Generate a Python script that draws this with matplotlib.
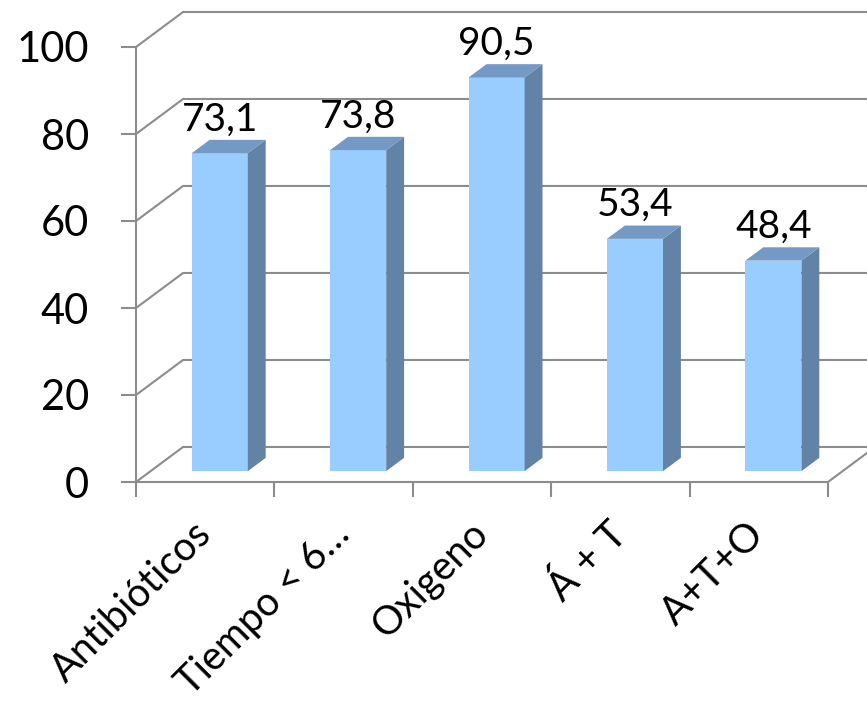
import matplotlib
matplotlib.use("Agg")
import matplotlib.pyplot as plt
from matplotlib.patches import Polygon
import numpy as np

categories = ["Antibióticos", "Tiempo < 6…", "Oxigeno", "Á + T", "A+T+O"]
values = [73.1, 73.8, 90.5, 53.4, 48.4]
y_ticks = [0, 20, 40, 60, 80, 100]

plt.rcParams['font.family'] = ['Lato', 'DejaVu Sans']

grid_col = "#8c8c8c"
front_col = "#99ccff"
side_col = "#6283a6"
top_col = "#7499c4"

# fake 3-D box: depth shift in category units (x) and value units (y)
DX, DY = 0.34, 8.05
z0, z1 = 0.31, 0.69          # bar sits between these depth fractions
bar_w = 0.405
px_per_cat, px_per_unit = 138.4, 4.35

fig = plt.figure(figsize=(8.67, 7.09), dpi=100)
ax = fig.add_axes([136 / 867, 227 / 709, 731 / 867, 482 / 709])
xmax = 731 / px_per_cat
ax.set_xlim(0, xmax)
ax.set_ylim(0, 482 / px_per_unit)

# back wall gridlines with the left side-wall diagonal
for v in y_ticks:
    ax.plot([0, DX, xmax], [v, v + DY, v + DY], color=grid_col, lw=1.5,
            zorder=1, clip_on=False, solid_capstyle='butt')
# right edge of the floor
n = len(categories)
ax.plot([n, n + DX], [0, DY], color=grid_col, lw=1.5, zorder=1, clip_on=False)

for s in ["top", "right"]:
    ax.spines[s].set_visible(False)
for s in ["left", "bottom"]:
    ax.spines[s].set_color(grid_col)
    ax.spines[s].set_linewidth(1.5)
ax.spines["left"].set_bounds(0, 100)
ax.spines["bottom"].set_bounds(0, n)

ax.set_yticks(y_ticks)
ax.set_yticklabels([str(t) for t in y_ticks])
ax.tick_params(axis='y', length=10.8, width=1.5, color=grid_col,
               labelsize=30, pad=23)

ax.set_xticks(np.arange(n + 1))
ax.set_xticklabels([])
ax.set_xticks(np.arange(n) + 0.5, minor=True)
ax.set_xticklabels(categories, minor=True, rotation=45, ha='right',
                   va='center', rotation_mode='anchor', fontsize=28.5)
ax.tick_params(axis='x', which='major', length=10.8, width=1.5, color=grid_col)
ax.tick_params(axis='x', which='minor', length=0, pad=33)

# bars: front face, right side and top
d = z1 - z0
yb = z0 * DY
centers = np.arange(n) + 0.5 + z0 * DX
ax.bar(centers, values, width=bar_w, bottom=yb, color=front_col,
       linewidth=0, zorder=3)
for xc, v in zip(centers, values):
    xl, xr = xc - bar_w / 2, xc + bar_w / 2
    yt = yb + v
    side = Polygon([(xr, yb), (xr, yt), (xr + d * DX, yt + d * DY),
                    (xr + d * DX, yb + d * DY)], closed=True,
                   fc=side_col, ec='none', zorder=3)
    top = Polygon([(xl, yt), (xr, yt), (xr + d * DX, yt + d * DY),
                   (xl + d * DX, yt + d * DY)], closed=True,
                  fc=top_col, ec='none', zorder=3)
    ax.add_patch(side)
    ax.add_patch(top)
    ax.text(xc, yt + d * DY + 2.2, f"{v:.1f}".replace(".", ","),
            ha='center', va='baseline', fontsize=28, zorder=4)

fig.savefig("out.png", dpi=100)
